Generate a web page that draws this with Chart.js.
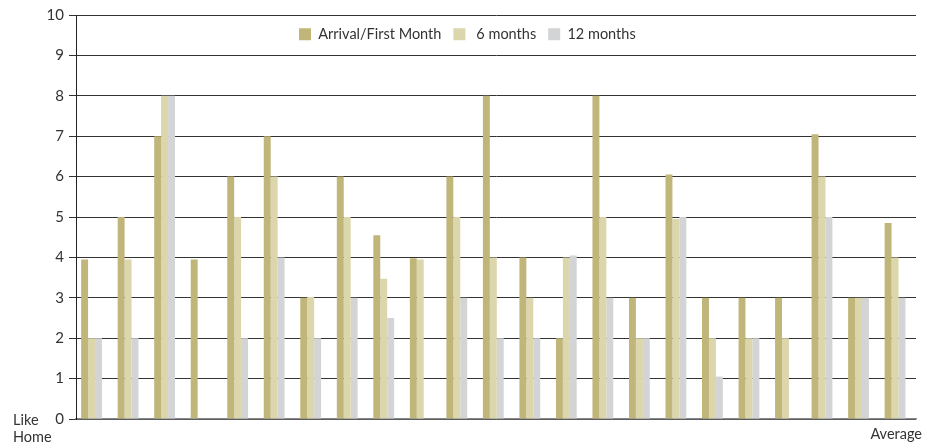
<!DOCTYPE html>
<html>
<head>
<meta charset="utf-8">
<script src="https://cdn.jsdelivr.net/npm/chart.js@4/dist/chart.umd.min.js"></script>
<style>
  html, body { margin: 0; padding: 0; background: #fff; }
  #wrap { width: 935px; height: 442px; position: relative; }
</style>
</head>
<body>
<div id="wrap"><canvas id="c" width="935" height="442"></canvas></div>
<script>
// Survey groups (23 columns, left = "Like Home", right = "Average")
const categories = Array.from({ length: 23 }, (_, i) => 'G' + (i + 1));
const seriesLabels = ['Arrival/First Month', ' 6 months', '12 months'];
const arrival  = [3.95, 5, 7, 3.95, 6, 7, 3, 6, 4.55, 3.98, 6, 8, 4, 2, 8, 3, 6.05, 3, 3, 3, 7.05, 3, 4.85];
const sixMonth = [2, 3.95, 8, 0, 5, 6, 3.02, 5, 3.47, 3.95, 5, 4, 3, 4, 5, 2, 4.95, 2, 2, 2, 6, 3, 4];
const twelve   = [2, 2, 8, 0, 2, 4, 2, 3, 2.5, 0, 3, 2, 2, 4.05, 3, 2, 5, 1.05, 2, 0, 5, 3, 3];
const yTicks = [0, 1, 2, 3, 4, 5, 6, 7, 8, 9, 10];
const colors = ['#C1B67A', '#DBD6AB', '#D3D4D5'];
const FONT = 'Lato, "Noto Sans", sans-serif';

// End-of-axis captions drawn on the canvas
const captions = {
  id: 'captions',
  afterDraw(chart) {
    const ctx = chart.ctx;
    ctx.save();
    ctx.fillStyle = '#333';
    ctx.font = '14.5px ' + FONT;
    ctx.textBaseline = 'middle';
    ctx.textAlign = 'left';
    ctx.fillText('Like', 13, 420);
    ctx.fillText('Home', 13, 437);
    ctx.textAlign = 'right';
    ctx.fillText('Average', 922, 434);
    ctx.restore();
  }
};

// Legend sits inside the plot as a single row; bar groups sit slightly left in their slots
const layoutTweaks = {
  id: 'layoutTweaks',
  beforeUpdate(chart) {
    if (chart.legend) chart.legend.isHorizontal = () => true;
  },
  afterLayout(chart) {
    const lg = chart.legend;
    if (lg) {
      const w = lg.right - lg.left;
      lg.left = 287;
      lg.right = 287 + w;
    }
    const xs = chart.scales.x;
    xs._startPixel -= 2.7;
    xs._endPixel -= 2.7;
  }
};

new Chart(document.getElementById('c'), {
  type: 'bar',
  data: {
    labels: categories,
    datasets: [arrival, sixMonth, twelve].map((d, i) => ({
      label: seriesLabels[i],
      data: d,
      backgroundColor: colors[i],
      borderWidth: 0,
      barPercentage: 1,
      categoryPercentage: 0.57
    }))
  },
  options: {
    responsive: false,
    animation: false,
    devicePixelRatio: 1,
    layout: { padding: { left: 0, right: 19, top: 15, bottom: 23 } },
    plugins: {
      tooltip: { enabled: false },
      legend: {
        position: 'chartArea',
        align: 'start',
        labels: {
          boxWidth: 12,
          boxHeight: 12,
          padding: 12,
          color: '#333',
          font: { family: FONT, size: 14.5 }
        }
      }
    },
    scales: {
      x: {
        ticks: { display: false },
        grid: { display: false },
        border: { display: true, color: '#888', width: 1.5 },
        afterFit(s) { s.height = 0; }
      },
      y: {
        min: 0,
        max: 10,
        afterBuildTicks(s) { s.ticks = yTicks.map(v => ({ value: v })); },
        ticks: {
          color: '#333',
          padding: 5,
          font: { family: FONT, size: 15 }
        },
        grid: { color: '#333', lineWidth: 1, tickLength: 7 },
        border: { display: true, color: '#222', width: 1 },
        afterFit(s) { s.width = 76; }
      }
    }
  },
  plugins: [captions, layoutTweaks]
});
</script>
</body>
</html>
